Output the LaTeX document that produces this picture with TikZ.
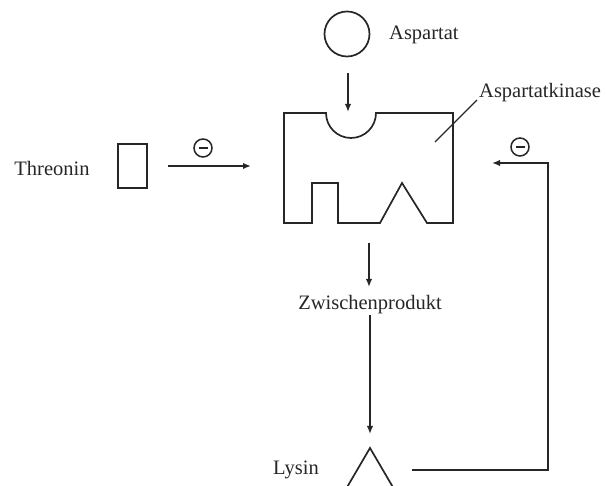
\documentclass[tikz,border=0pt]{standalone}
\usepackage{fontspec}
\setmainfont{Liberation Serif}
\usetikzlibrary{arrows.meta}
\begin{document}
\begin{tikzpicture}[x=1pt,y=1pt,
  ln/.style={line width=1.7pt,draw=black!85},
  arr/.style={ln,-{Latex[length=8pt,width=6.5pt]}},
  lbl/.style={font=\fontsize{20.5}{22}\selectfont,text=black!85,inner sep=0pt},
  minus/.style={circle,draw=black!85,line width=1.5pt,minimum size=18pt,inner sep=0pt,
    path picture={\draw[line width=1.6pt,black!85] ([xshift=-4.5pt]path picture bounding box.center)--([xshift=4.5pt]path picture bounding box.center);}}
]
\useasboundingbox (0,0) rectangle (606,486);
% Aspartat
\node[circle,ln,minimum size=45pt,inner sep=0pt] (asp) at (347,452) {};
\node[lbl,anchor=west] (asptxt) at (389,451) {Aspartat};
% enzyme
\draw[ln,line join=miter] (284,373) -- (326,373) arc[start angle=180,end angle=360,radius=25pt]
  -- (453,373) -- (453,263) -- (427,263) -- (402,303) -- (380,263) -- (338,263)
  -- (338,303) -- (312,303) -- (312,263) -- (284,263) -- cycle;
\coordinate (enztop) at (348,374);
\draw[arr] ([yshift=-16pt]asp.south -| enztop) -- (enztop);
% Aspartatkinase label
\node[lbl,anchor=west] (aktxt) at (479,393) {Aspartatkinase};
\coordinate (akin) at (435,344);
\coordinate (akout) at (477,386);
\draw[line width=1.3pt,black!85] (akin) -- (akout);
% Threonin
\node[lbl] (thrtxt) at (52,318) {Threonin};
\node[ln,rectangle,minimum width=29pt,minimum height=44pt,inner sep=0pt] (thr) at (132.5,320) {};
\coordinate (thra) at (168,320);
\coordinate (thrb) at (251,320);
\draw[arr] (thra) -- (thrb);
\node[minus] (m1) at (203,338) {};
% Zwischenprodukt
\coordinate (enzbot) at (369,243);
\coordinate (zwtop) at (369,199);
\draw[arr] (enzbot) -- (zwtop);
\node[lbl] (zw) at (370,181) {Zwischenprodukt};
\coordinate (zwbot) at (370,171);
\coordinate (lystop) at (370,52);
\draw[arr] (zwbot) -- (lystop);
% Lysin
\node[lbl] (lystxt) at (296,16) {Lysin};
\draw[ln,line join=miter] (370,38) -- (394,-3) -- (346,-3) -- cycle;
\coordinate (lysr) at (412,16);
\coordinate (corner) at (548,16);
\coordinate (fbtop) at (548,323);
\coordinate (fbend) at (492,323);
\draw[arr] (lysr) -- (corner) -- (fbtop) -- (fbend);
\node[minus] (m2) at (520,339) {};
\end{tikzpicture}
\end{document}
